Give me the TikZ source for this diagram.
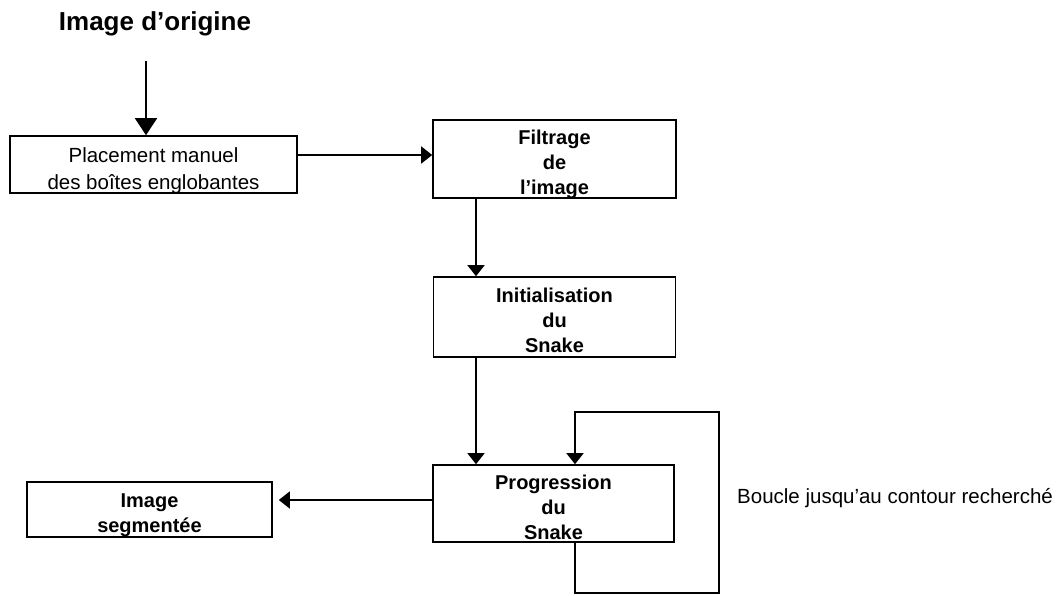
\documentclass[tikz,border=0pt]{standalone}
\usepackage{fontspec}
\setmainfont{Liberation Sans}
\usepackage{xcolor}
\usetikzlibrary{arrows.meta, positioning, calc}

% stacked lines, centred a little below the middle of the box
\newcommand{\boxlines}[1]{\raisebox{-11pt}[0pt][0pt]{\begin{tabular}{@{}c@{}}#1\end{tabular}}}

\begin{document}
\begin{tikzpicture}[
    x=1pt, y=-1pt,
    box/.style={draw, line width=1.6pt, inner sep=0pt,
                font=\fontsize{20}{25}\selectfont\bfseries},
    plainbox/.style={box, font=\fontsize{20.5}{27}\selectfont},
    arrow/.style={-{Triangle[width=17pt, length=11pt]}, line width=1.6pt},
    bigarrow/.style={-{Triangle[width=22pt, length=17pt]}, line width=1.6pt},
    label/.style={font=\fontsize{20.5}{24}\selectfont, inner sep=0pt},
]
\useasboundingbox (0,0) rectangle (1063,595);

\node[font=\fontsize{26}{30}\selectfont\bfseries, inner sep=0pt] (orig) at (155,24) {Image d’origine};
\node[plainbox, minimum width=287pt, minimum height=57pt] (place) at (153.5,164.5)
    {\boxlines{Placement manuel\\des boîtes englobantes}};
\node[box, minimum width=243pt, minimum height=78pt] (filt) at (554.5,159) {\boxlines{Filtrage\\de\\l’image}};
\node[box, minimum width=242pt, minimum height=80pt] (init) at (554.5,317) {\boxlines{Initialisation\\du\\Snake}};
\node[box, minimum width=241pt, minimum height=77pt] (prog) at (553.5,503.5) {\boxlines{Progression\\du\\Snake}};
\node[box, minimum width=245pt, minimum height=55pt] (seg) at (149.5,509.5) {\boxlines{Image\\segmentée}};
\node[label, anchor=west] (boucle) at (737,498) {Boucle jusqu’au contour recherché};

% loop corners and title arrow start
\coordinate (loopbot) at (719,593);
\coordinate (looptop) at (719,412);
\coordinate (origarr) at ([xshift=-9pt, yshift=-25pt]orig.south);

% main chain
\draw[bigarrow] (origarr) -- (origarr |- place.north);
\draw[arrow] ([yshift=9.5pt]place.east) -- ([yshift=9.5pt]place.east -| filt.west);
\draw[arrow] ([xshift=-78.5pt]filt.south) -- ([xshift=-78.5pt]filt.south |- init.north);
\draw[arrow] ([xshift=-78.5pt]init.south) -- ([xshift=-78.5pt]init.south |- prog.north);

% output
\draw[arrow, shorten >=6pt] ([yshift=3.5pt]prog.west) -- ([yshift=3.5pt]prog.west -| seg.east);

% loop back into the snake
\draw[arrow] ([xshift=21.5pt]prog.south) |- (loopbot) -- (looptop) -| ([xshift=21.5pt]prog.north);

\end{tikzpicture}
\end{document}
